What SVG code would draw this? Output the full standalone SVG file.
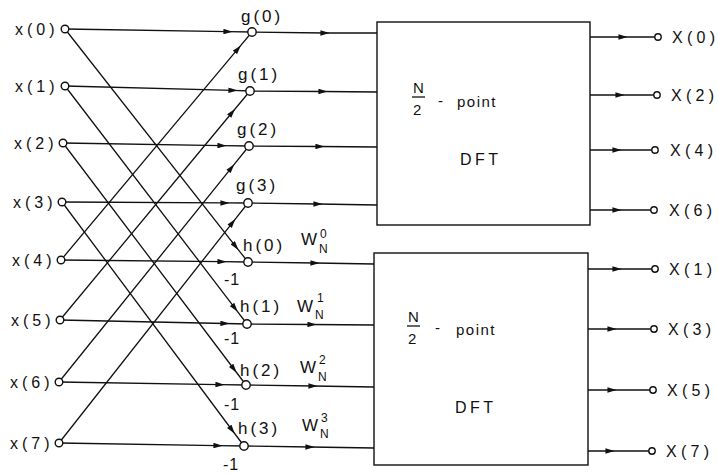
<svg xmlns="http://www.w3.org/2000/svg" width="718" height="474" viewBox="0 0 718 474">
<style>
  text { font-family: "Liberation Sans", Arial, sans-serif; fill: #111; }
  .lbl { font-size: 16px; letter-spacing: 4px; }
  .out { font-size: 16px; letter-spacing: 4.3px; }
  .mid { font-size: 17px; letter-spacing: 3px; }
  .m1 { font-size: 16px; letter-spacing: 1px; }
  .w { font-size: 17px; }
  .sub { font-size: 12px; }
  .box { fill: #fff; stroke: #111; stroke-width: 1.4; }
  .frac { font-size: 15px; }
  .pt { font-size: 15px; letter-spacing: 1.5px; }
  .dft { font-size: 16px; letter-spacing: 3.5px; }
  .node { fill: #fff; stroke: #111; stroke-width: 1.4; }
  .wire { fill: none; stroke: #111; stroke-width: 1.3; marker-mid: url(#arr); }
</style>
<defs>
  <marker id="arr" viewBox="0 0 10 6" refX="5" refY="3" markerWidth="10" markerHeight="5.5" markerUnits="userSpaceOnUse" orient="auto">
    <path d="M0,0 L10,3 L0,6 z" fill="#111"/>
  </marker>
</defs>
<rect width="718" height="474" fill="#fff"/>

<g id="connectors">
  <path class="wire" d="M65,29 L228,31.6 L252,32"/>
  <path class="wire" d="M65,86 L233,90.4 L250,91"/>
  <path class="wire" d="M63,143 L222,145.6 L249,146"/>
  <path class="wire" d="M62,202 L225,202.9 L248,203"/>
  <path class="wire" d="M61,260 L222,261.7 L248,262"/>
  <path class="wire" d="M60,320 L225,323.5 L247,324"/>
  <path class="wire" d="M59,382 L220,384.6 L246,385"/>
  <path class="wire" d="M59,443 L218,445.6 L244,446"/>
  <path class="wire" d="M65,29 L235.6,246.3 L248,262"/>
  <path class="wire" d="M65,86 L234.9,308.1 L247,324"/>
  <path class="wire" d="M63,143 L233.9,369 L246,385"/>
  <path class="wire" d="M62,202 L232,430 L244,446"/>
  <path class="wire" d="M61,260 L237.9,48.9 L252,32"/>
  <path class="wire" d="M60,320 L232.1,112.5 L250,91"/>
  <path class="wire" d="M59,382 L231.4,167.8 L249,146"/>
  <path class="wire" d="M59,443 L232.5,222.6 L248,203"/>
  <path class="wire" d="M252,32 L325,33 L377,33"/>
  <path class="wire" d="M250,91 L323,91.5 L377,92"/>
  <path class="wire" d="M249,146 L320,146.5 L377,147"/>
  <path class="wire" d="M248,203 L318,204 L377,205"/>
  <path class="wire" d="M248,262 L315,263 L374,264"/>
  <path class="wire" d="M247,324 L312,324.5 L374,325"/>
  <path class="wire" d="M246,385 L313,386 L374,387"/>
  <path class="wire" d="M244,446 L310,447 L374,448"/>
  <path class="wire" d="M590,37 L623,37 L656,37"/>
  <path class="wire" d="M590,95 L620,95 L655,95"/>
  <path class="wire" d="M590,150 L617,150 L653,150"/>
  <path class="wire" d="M589,210 L617,210 L652,210"/>
  <path class="wire" d="M588,269 L617,269 L653,269"/>
  <path class="wire" d="M588,329 L612,329 L652,329"/>
  <path class="wire" d="M588,390 L612,390 L651,390"/>
  <path class="wire" d="M588,451 L610,451 L650,451"/>
</g>

<g id="input-x0"><circle class="node" cx="65" cy="29" r="3.8"/><text class="lbl" x="15" y="35">x(0)</text></g>
<g id="input-x1"><circle class="node" cx="65" cy="86" r="3.8"/><text class="lbl" x="15" y="92">x(1)</text></g>
<g id="input-x2"><circle class="node" cx="63" cy="143" r="3.8"/><text class="lbl" x="14" y="149">x(2)</text></g>
<g id="input-x3"><circle class="node" cx="62" cy="202" r="3.8"/><text class="lbl" x="13" y="208">x(3)</text></g>
<g id="input-x4"><circle class="node" cx="61" cy="260" r="3.8"/><text class="lbl" x="12" y="266">x(4)</text></g>
<g id="input-x5"><circle class="node" cx="60" cy="320" r="3.8"/><text class="lbl" x="11" y="326">x(5)</text></g>
<g id="input-x6"><circle class="node" cx="59" cy="382" r="3.8"/><text class="lbl" x="10" y="388">x(6)</text></g>
<g id="input-x7"><circle class="node" cx="59" cy="443" r="3.8"/><text class="lbl" x="10" y="449">x(7)</text></g>

<g id="node-g0"><circle class="node" cx="252" cy="32" r="4.2"/><text class="mid" x="241" y="22">g(0)</text></g>
<g id="node-g1"><circle class="node" cx="250" cy="91" r="4.2"/><text class="mid" x="238" y="80">g(1)</text></g>
<g id="node-g2"><circle class="node" cx="249" cy="146" r="4.2"/><text class="mid" x="237" y="135">g(2)</text></g>
<g id="node-g3"><circle class="node" cx="248" cy="203" r="4.2"/><text class="mid" x="236" y="191">g(3)</text></g>

<g id="node-h0"><circle class="node" cx="248" cy="262" r="4.2"/><text class="mid" x="243" y="251">h(0)</text>
  <text class="w" x="301" y="245">W</text><text class="sub" x="319" y="253">N</text><text class="sub" x="320" y="238">0</text>
  <text class="m1" x="224" y="285">-1</text></g>
<g id="node-h1"><circle class="node" cx="247" cy="324" r="4.2"/><text class="mid" x="240" y="312">h(1)</text>
  <text class="w" x="297" y="312">W</text><text class="sub" x="315" y="319">N</text><text class="sub" x="317" y="302">1</text>
  <text class="m1" x="224" y="344">-1</text></g>
<g id="node-h2"><circle class="node" cx="246" cy="385" r="4.2"/><text class="mid" x="240" y="376">h(2)</text>
  <text class="w" x="300" y="373">W</text><text class="sub" x="318" y="381">N</text><text class="sub" x="319" y="364">2</text>
  <text class="m1" x="224" y="410">-1</text></g>
<g id="node-h3"><circle class="node" cx="244" cy="446" r="4.2"/><text class="mid" x="238" y="434">h(3)</text>
  <text class="w" x="302" y="431">W</text><text class="sub" x="320" y="438">N</text><text class="sub" x="321" y="422">3</text>
  <text class="m1" x="223" y="470">-1</text></g>

<g id="dft-even">
  <rect class="box" x="377" y="22" width="213" height="203"/>
  <text class="frac" x="413" y="93">N</text>
  <line x1="412" y1="97" x2="425" y2="97" stroke="#111" stroke-width="1.3"/>
  <text class="frac" x="413" y="115">2</text>
  <text class="pt" x="438" y="106">-</text>
  <text class="pt" x="457" y="107">point</text>
  <text class="dft" x="460" y="165">DFT</text>
</g>
<g id="dft-odd">
  <rect class="box" x="374" y="253" width="214" height="212"/>
  <text class="frac" x="408" y="322">N</text>
  <line x1="407" y1="326" x2="420" y2="326" stroke="#111" stroke-width="1.3"/>
  <text class="frac" x="408" y="344">2</text>
  <text class="pt" x="435" y="333">-</text>
  <text class="pt" x="456" y="335">point</text>
  <text class="dft" x="455" y="413">DFT</text>
</g>

<g id="out-X0"><circle class="node" cx="658" cy="37" r="3.2"/><text class="out" x="672" y="43">X(0)</text></g>
<g id="out-X2"><circle class="node" cx="657" cy="95" r="3.2"/><text class="out" x="671" y="101">X(2)</text></g>
<g id="out-X4"><circle class="node" cx="655" cy="150" r="3.2"/><text class="out" x="670" y="156">X(4)</text></g>
<g id="out-X6"><circle class="node" cx="654" cy="210" r="3.2"/><text class="out" x="669" y="216">X(6)</text></g>
<g id="out-X1"><circle class="node" cx="655" cy="269" r="3.2"/><text class="out" x="669" y="275">X(1)</text></g>
<g id="out-X3"><circle class="node" cx="654" cy="329" r="3.2"/><text class="out" x="668" y="335">X(3)</text></g>
<g id="out-X5"><circle class="node" cx="653" cy="390" r="3.2"/><text class="out" x="667" y="396">X(5)</text></g>
<g id="out-X7"><circle class="node" cx="652" cy="451" r="3.2"/><text class="out" x="666" y="457">X(7)</text></g>
</svg>
